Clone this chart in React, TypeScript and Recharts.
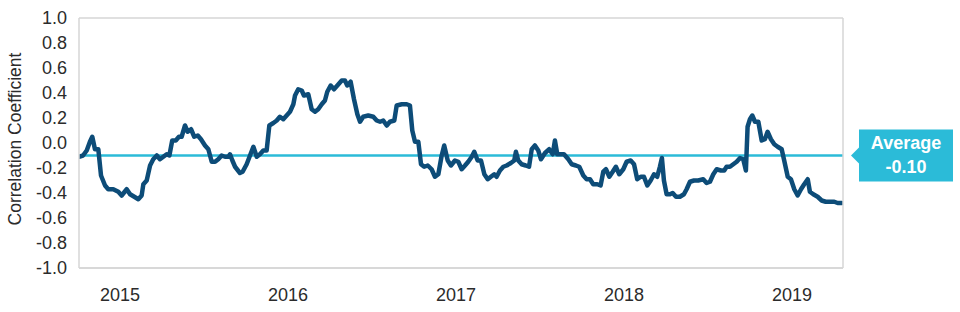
import React from "react";
import {
  LineChart,
  Line,
  XAxis,
  YAxis,
  CartesianGrid,
  ReferenceLine,
} from "recharts";

// Decimal-year dates (weekly-ish sampling)
const dates: number[] = [
  2015.256, 2015.28, 2015.302, 2015.321, 2015.335, 2015.351, 2015.371, 2015.387, 2015.411, 2015.43,
  2015.46, 2015.49, 2015.51, 2015.54, 2015.56, 2015.585, 2015.609, 2015.629, 2015.639, 2015.659,
  2015.679, 2015.698, 2015.719, 2015.738, 2015.758, 2015.778, 2015.794, 2015.811, 2015.832, 2015.851,
  2015.867, 2015.887, 2015.903, 2015.923, 2015.942, 2015.963, 2015.982, 2016.006, 2016.026, 2016.046,
  2016.066, 2016.085, 2016.105, 2016.125, 2016.145, 2016.155, 2016.169, 2016.185, 2016.214, 2016.23,
  2016.254, 2016.274, 2016.294, 2016.314, 2016.333, 2016.353, 2016.373, 2016.389, 2016.413, 2016.433,
  2016.452, 2016.472, 2016.492, 2016.512, 2016.532, 2016.542, 2016.561, 2016.582, 2016.595, 2016.621,
  2016.641, 2016.661, 2016.68, 2016.701, 2016.72, 2016.734, 2016.754, 2016.774, 2016.794, 2016.82,
  2016.839, 2016.853, 2016.873, 2016.893, 2016.913, 2016.929, 2016.948, 2016.978, 2017.008, 2017.028,
  2017.048, 2017.067, 2017.088, 2017.107, 2017.133, 2017.147, 2017.177, 2017.207, 2017.226, 2017.24,
  2017.256, 2017.276, 2017.292, 2017.311, 2017.332, 2017.355, 2017.375, 2017.395, 2017.415, 2017.43,
  2017.451, 2017.47, 2017.494, 2017.514, 2017.534, 2017.554, 2017.573, 2017.594, 2017.609, 2017.629,
  2017.649, 2017.669, 2017.689, 2017.708, 2017.728, 2017.742, 2017.762, 2017.782, 2017.802, 2017.827,
  2017.847, 2017.857, 2017.871, 2017.891, 2017.915, 2017.935, 2017.951, 2017.97, 2017.99, 2018.006,
  2018.03, 2018.055, 2018.076, 2018.089, 2018.103, 2018.123, 2018.143, 2018.169, 2018.189, 2018.214,
  2018.234, 2018.258, 2018.278, 2018.298, 2018.317, 2018.341, 2018.361, 2018.377, 2018.393, 2018.413,
  2018.433, 2018.452, 2018.472, 2018.496, 2018.516, 2018.54, 2018.56, 2018.579, 2018.6, 2018.619,
  2018.639, 2018.659, 2018.679, 2018.698, 2018.714, 2018.726, 2018.738, 2018.754, 2018.774, 2018.79,
  2018.81, 2018.833, 2018.857, 2018.873, 2018.893, 2018.917, 2018.942, 2018.972, 2018.992, 2019.012,
  2019.032, 2019.052, 2019.077, 2019.097, 2019.111, 2019.131, 2019.151, 2019.171, 2019.191, 2019.21,
  2019.226, 2019.236, 2019.25, 2019.264, 2019.28, 2019.3, 2019.32, 2019.339, 2019.355, 2019.375,
  2019.395, 2019.415, 2019.439, 2019.454, 2019.475, 2019.494, 2019.514, 2019.534, 2019.554, 2019.573,
  2019.594, 2019.607, 2019.627, 2019.653, 2019.677, 2019.701, 2019.726, 2019.752, 2019.772, 2019.796,
];

// Rolling correlation coefficient values
const correlation: number[] = [
  -0.11, -0.1, -0.06, 0.01, 0.05, -0.05, -0.05, -0.26, -0.34, -0.37,
  -0.37, -0.39, -0.42, -0.37, -0.41, -0.43, -0.45, -0.42, -0.33, -0.3,
  -0.18, -0.13, -0.1, -0.13, -0.11, -0.09, -0.1, 0.02, 0.02, 0.05,
  0.05, 0.14, 0.09, 0.11, 0.05, 0.06, 0.03, -0.02, -0.05, -0.15,
  -0.15, -0.13, -0.1, -0.11, -0.11, -0.09, -0.14, -0.19, -0.24, -0.23,
  -0.17, -0.1, -0.03, -0.11, -0.09, -0.06, -0.06, 0.14, 0.16, 0.18,
  0.21, 0.19, 0.22, 0.25, 0.31, 0.38, 0.43, 0.42, 0.38, 0.39,
  0.27, 0.25, 0.27, 0.31, 0.34, 0.41, 0.46, 0.43, 0.46, 0.5,
  0.5, 0.46, 0.49, 0.35, 0.23, 0.17, 0.21, 0.22, 0.21, 0.18,
  0.17, 0.18, 0.14, 0.17, 0.18, 0.3, 0.31, 0.31, 0.3, 0.1,
  0.01, 0.01, -0.17, -0.19, -0.18, -0.21, -0.27, -0.25, -0.1, -0.02,
  -0.14, -0.18, -0.14, -0.15, -0.21, -0.18, -0.15, -0.11, -0.07, -0.14,
  -0.14, -0.25, -0.29, -0.27, -0.25, -0.27, -0.22, -0.19, -0.18, -0.16,
  -0.14, -0.07, -0.14, -0.17, -0.18, -0.19, -0.05, -0.02, -0.06, -0.13,
  -0.08, -0.05, -0.09, 0.02, -0.09, -0.09, -0.09, -0.13, -0.17, -0.18,
  -0.19, -0.26, -0.29, -0.29, -0.33, -0.33, -0.34, -0.23, -0.21, -0.27,
  -0.23, -0.19, -0.25, -0.21, -0.15, -0.14, -0.17, -0.29, -0.27, -0.27,
  -0.34, -0.3, -0.25, -0.27, -0.19, -0.12, -0.3, -0.41, -0.41, -0.4,
  -0.43, -0.43, -0.41, -0.37, -0.31, -0.3, -0.3, -0.29, -0.32, -0.31,
  -0.25, -0.21, -0.22, -0.22, -0.19, -0.19, -0.17, -0.15, -0.12, -0.13,
  -0.22, 0.13, 0.19, 0.22, 0.17, 0.17, 0.02, 0.03, 0.09, 0.03,
  -0.01, -0.03, -0.05, -0.14, -0.27, -0.29, -0.37, -0.42, -0.37, -0.33,
  -0.29, -0.39, -0.41, -0.43, -0.46, -0.47, -0.47, -0.47, -0.48, -0.48,
];

const AVERAGE = -0.1;
const AVERAGE_LABEL = "Average";
const AVERAGE_TEXT = "-0.10";

// Year labels sit at mid-year
const yearTicks: number[] = [2015.5, 2016.5, 2017.5, 2018.5, 2019.5];
const xDomain: [number, number] = [2015.256, 2019.804];
const yTicks: number[] = [-1, -0.8, -0.6, -0.4, -0.2, 0, 0.2, 0.4, 0.6, 0.8, 1];

const data = dates.map((d, i) => ({ date: d, corr: correlation[i] }));

const FONT = '"Liberation Sans", Arial, Helvetica, sans-serif';
const NAVY = "#0d4c78";
const CYAN = "#2bbbd8";
const GRID = "#d6d6d6";
const TEXT = "#2b2b2b";

const AverageTag = (props: any) => {
  const vb = props.viewBox || {};
  const tipX = vb.x + vb.width + 8;
  const y0 = vb.y;
  const bx = tipX + 8;
  const w = 94;
  return (
    <g>
      <polygon points={`${tipX},${y0} ${bx},${y0 - 8} ${bx},${y0 + 8}`} fill={CYAN} />
      <rect x={bx} y={y0 - 26} width={w} height={52} fill={CYAN} />
      <text
        x={bx + w / 2}
        y={y0 - 7}
        textAnchor="middle"
        fill="#ffffff"
        fontFamily={FONT}
        fontWeight="bold"
        fontSize={18}
      >
        {AVERAGE_LABEL}
      </text>
      <text
        x={bx + w / 2}
        y={y0 + 17}
        textAnchor="middle"
        fill="#ffffff"
        fontFamily={FONT}
        fontWeight="bold"
        fontSize={18}
      >
        {AVERAGE_TEXT}
      </text>
    </g>
  );
};

const YTitle = (props: any) => {
  const vb = props.viewBox || {};
  const cx = vb.x + 15;
  const cy = vb.y + vb.height / 2 - 4;
  return (
    <text
      x={cx}
      y={cy}
      transform={`rotate(-90, ${cx}, ${cy})`}
      textAnchor="middle"
      dy="0.35em"
      fill={TEXT}
      fontFamily={FONT}
      fontSize={17.5}
    >
      Correlation Coefficient
    </text>
  );
};

export default function App() {
  return (
    <div style={{ width: 960, height: 312, background: "#fff" }}>
      <style>{`body{margin:0;}`}</style>
      <LineChart
        width={960}
        height={312}
        data={data}
        margin={{ top: 18, right: 116, bottom: 0, left: 0 }}
      >
        <CartesianGrid horizontal vertical={false} stroke={GRID} strokeWidth={1.5} />
        <XAxis
          dataKey="date"
          type="number"
          domain={xDomain}
          ticks={yearTicks}
          interval={0}
          tickFormatter={(v: number) => String(Math.floor(v))}
          allowDataOverflow
          axisLine={{ stroke: GRID, strokeWidth: 1.5 }}
          tickLine={false}
          tickSize={6}
          tickMargin={14}
          tick={{ fill: TEXT, fontSize: 18, fontFamily: FONT }}
          height={44}
        />
        <YAxis
          yAxisId="left"
          domain={[-1, 1]}
          ticks={yTicks}
          interval={0}
          tickFormatter={(v: number) => v.toFixed(1)}
          axisLine={{ stroke: GRID, strokeWidth: 1.5 }}
          tickLine={false}
          tickSize={6}
          tickMargin={6}
          width={79}
          tick={{ fill: TEXT, fontSize: 18, fontFamily: FONT }}
          label={(p: any) => <YTitle {...p} />}
        />
        <YAxis
          yAxisId="right"
          orientation="right"
          domain={[-1, 1]}
          ticks={yTicks}
          tick={false}
          tickLine={false}
          axisLine={{ stroke: GRID, strokeWidth: 1.5 }}
          width={1}
        />
        <ReferenceLine
          yAxisId="left"
          y={AVERAGE}
          stroke={CYAN}
          strokeWidth={2.5}
          label={(p: any) => <AverageTag {...p} />}
        />
        <Line
          yAxisId="left"
          type="linear"
          dataKey="corr"
          stroke={NAVY}
          strokeWidth={4.5}
          strokeLinejoin="round"
          strokeLinecap="round"
          dot={false}
          isAnimationActive={false}
        />
      </LineChart>
    </div>
  );
}
